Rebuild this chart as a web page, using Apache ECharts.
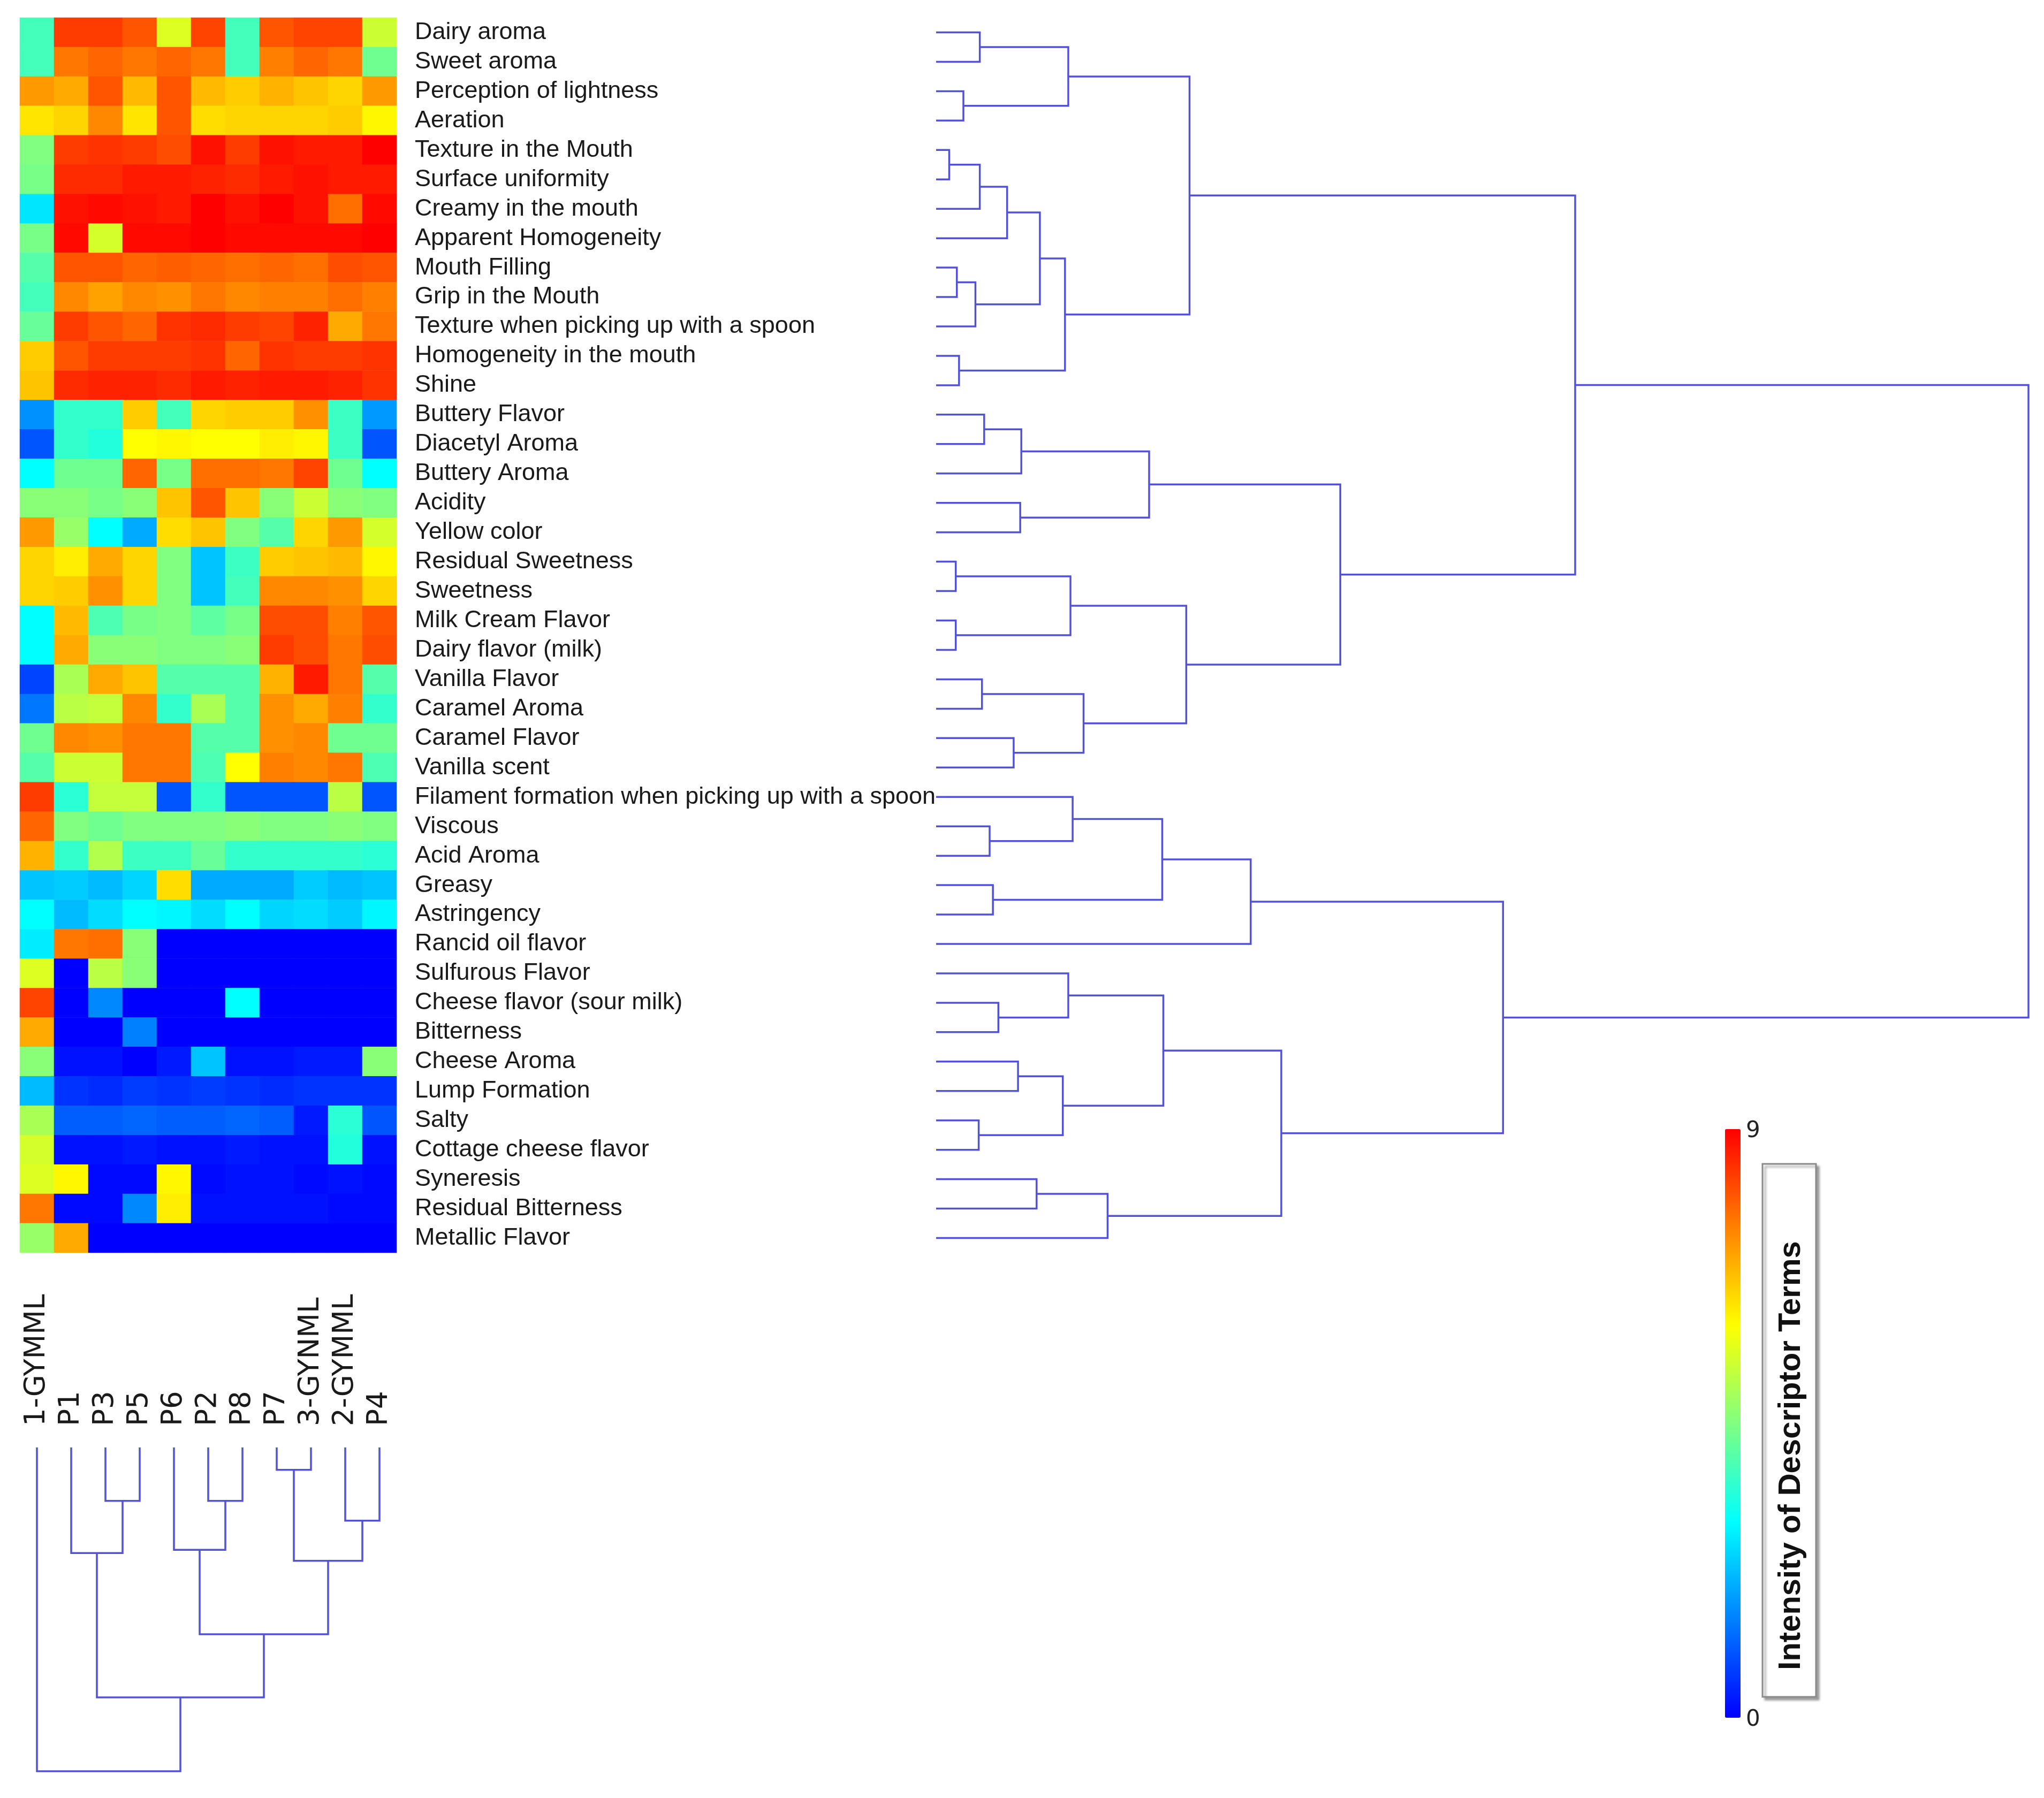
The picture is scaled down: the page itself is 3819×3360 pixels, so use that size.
<!DOCTYPE html>
<html><head><meta charset="utf-8">
<script src="https://cdn.jsdelivr.net/npm/echarts@6/dist/echarts.min.js"></script>
<style>html,body{margin:0;padding:0;background:#fff}#c{width:3819px;height:3360px}</style>
</head><body><div id="c"></div><script>
// ---------- data ----------
const samples = ['1-GYMML','P1','P3','P5','P6','P2','P8','P7','3-GYNML','2-GYMML','P4'];
const descriptors = [
  'Dairy aroma','Sweet aroma','Perception of lightness','Aeration','Texture in the Mouth',
  'Surface uniformity','Creamy in the mouth','Apparent Homogeneity','Mouth Filling','Grip in the Mouth',
  'Texture when picking up with a spoon','Homogeneity in the mouth','Shine','Buttery Flavor','Diacetyl Aroma',
  'Buttery Aroma','Acidity','Yellow color','Residual Sweetness','Sweetness','Milk Cream Flavor',
  'Dairy flavor (milk)','Vanilla Flavor','Caramel Aroma','Caramel Flavor','Vanilla scent',
  'Filament formation when picking up with a spoon','Viscous','Acid Aroma','Greasy','Astringency',
  'Rancid oil flavor','Sulfurous Flavor','Cheese flavor (sour milk)','Bitterness','Cheese Aroma',
  'Lump Formation','Salty','Cottage cheese flavor','Syneresis','Residual Bitterness','Metallic Flavor'
];
// intensity[row][column], columns in the order of `samples`
const intensity = [
  [3.8,8.3,8.3,8.0,5.6,8.2,3.8,8.0,8.2,8.2,5.4],
  [3.8,7.6,7.8,7.6,7.8,7.6,3.8,7.5,7.8,7.6,4.3],
  [7.2,7.0,8.0,6.8,8.0,6.8,6.6,6.9,6.7,6.5,7.2],
  [6.3,6.5,7.4,6.3,8.0,6.4,6.5,6.5,6.5,6.6,6.1],
  [4.5,8.3,8.4,8.3,8.1,8.8,8.3,8.8,8.7,8.7,9.0],
  [4.4,8.5,8.5,8.7,8.7,8.6,8.5,8.7,8.8,8.7,8.7],
  [2.7,8.8,8.9,8.8,8.7,9.0,8.8,9.0,8.8,7.7,8.9],
  [4.4,8.9,5.5,8.9,8.9,9.0,8.9,8.9,8.9,8.9,9.0],
  [4.0,8.0,8.0,7.8,7.9,7.8,7.7,7.8,7.7,8.1,8.0],
  [3.8,7.4,7.1,7.4,7.3,7.6,7.4,7.5,7.5,7.7,7.5],
  [4.2,8.3,8.0,7.8,8.4,8.5,8.3,8.2,8.6,7.0,7.6],
  [6.6,8.0,8.3,8.3,8.3,8.4,7.8,8.4,8.3,8.3,8.4],
  [6.7,8.5,8.6,8.6,8.5,8.7,8.6,8.7,8.7,8.6,8.4],
  [1.7,3.6,3.6,6.6,3.8,6.5,6.6,6.6,7.3,3.7,1.8],
  [1.0,3.6,3.4,6.0,6.1,6.0,6.0,6.2,6.1,3.7,1.0],
  [3.0,4.3,4.3,7.8,4.4,7.7,7.7,7.6,8.2,4.3,3.0],
  [4.6,4.6,4.4,4.6,6.7,8.0,6.7,4.6,5.4,4.6,4.5],
  [7.2,4.8,3.0,2.0,6.4,6.7,4.5,4.0,6.5,7.2,5.5],
  [6.5,6.2,7.0,6.5,4.5,2.3,3.7,6.6,6.7,6.8,6.1],
  [6.5,6.6,7.3,6.5,4.5,2.3,3.8,7.4,7.4,7.3,6.5],
  [3.0,6.8,3.9,4.4,4.5,4.1,4.4,8.1,8.1,7.5,8.0],
  [3.0,7.0,4.6,4.6,4.5,4.5,4.6,8.3,8.1,7.6,8.1],
  [0.8,5.0,7.0,6.7,4.0,4.0,4.0,6.9,8.7,7.6,4.0],
  [1.4,5.2,5.3,7.4,3.6,5.0,4.0,7.3,7.0,7.5,3.6],
  [4.3,7.4,7.3,7.6,7.6,4.0,4.0,7.3,7.4,4.3,4.3],
  [4.0,5.4,5.4,7.6,7.6,3.9,6.0,7.5,7.4,7.6,3.9],
  [8.3,3.5,5.3,5.3,1.0,3.6,1.0,1.0,1.0,5.2,1.0],
  [7.8,4.5,4.3,4.5,4.5,4.5,4.6,4.5,4.5,4.6,4.5],
  [6.9,3.6,5.1,3.7,3.7,4.2,3.6,3.6,3.6,3.6,3.5],
  [2.3,2.4,2.2,2.5,6.4,2.0,2.0,2.0,2.4,2.2,2.3],
  [3.0,2.2,2.6,3.0,2.9,2.6,3.0,2.5,2.6,2.4,2.9],
  [2.8,7.6,7.7,4.6,0.0,0.0,0.0,0.0,0.0,0.0,0.0],
  [5.6,0.0,5.2,4.6,0.0,0.0,0.0,0.0,0.0,0.0,0.0],
  [8.2,0.0,1.6,0.0,0.0,0.0,3.0,0.0,0.0,0.0,0.0],
  [7.0,0.0,0.0,1.5,0.0,0.0,0.0,0.0,0.0,0.0,0.0],
  [4.6,0.2,0.2,0.0,0.3,2.3,0.2,0.2,0.3,0.3,4.6],
  [2.2,0.6,0.5,0.7,0.6,0.7,0.6,0.5,0.6,0.6,0.6],
  [5.0,1.1,1.1,1.2,1.1,1.1,1.2,1.1,0.3,3.5,1.0],
  [5.5,0.2,0.2,0.3,0.2,0.2,0.3,0.2,0.2,3.4,0.2],
  [5.6,6.1,0.1,0.1,6.1,0.1,0.2,0.2,0.1,0.2,0.1],
  [7.6,0.1,0.1,1.6,6.2,0.2,0.2,0.2,0.2,0.1,0.1],
  [4.8,7.0,0.0,0.0,0.0,0.0,0.0,0.0,0.0,0.0,0.0]
];
// linkage: [childA, childB, height]; ids < n are leaves, id n+k is the k-th merge
const rowLinkage = [
  [0,1,4.0],[2,3,2.5],[42,43,12.1],[4,5,1.2],[45,6,4.0],[46,7,6.5],[8,9,1.9],[48,10,3.6],
  [47,49,9.5],[11,12,2.1],[50,51,11.8],[44,52,23.2],[13,14,4.4],[54,15,7.8],[16,17,7.7],
  [55,56,19.5],[18,19,1.8],[20,21,1.8],[58,59,12.3],[22,23,4.2],[24,25,7.1],[61,62,13.5],
  [60,63,22.9],[57,64,37.0],[53,65,58.5],[27,28,4.9],[26,67,12.5],[29,30,5.2],[68,69,20.7],
  [70,31,28.8],[33,34,5.7],[32,72,12.1],[35,36,7.5],[37,38,3.9],[74,75,11.6],[73,76,20.8],
  [39,40,9.2],[78,41,15.7],[77,79,31.6],[71,80,51.9],[66,81,100]
];
const colLinkage = [
  [2,3,16.5],[1,11,32.6],[5,6,16.5],[4,13,31.6],[7,8,6.9],[9,10,22.6],
  [15,16,35.0],[14,17,57.7],[12,18,77.2],[0,19,100]
];
const scaleMin = 0, scaleMax = 9;
const colorbarTitle = 'Intensity of Descriptor Terms';

// ---------- build ----------
function dendroSegments(linkage, n, heightOnX) {
  const pos = [], hgt = [];
  for (let i = 0; i < n; i++) { pos[i] = i; hgt[i] = 0; }
  const segs = [];
  linkage.forEach(([a, b, h], k) => {
    const id = n + k;
    pos[id] = (pos[a] + pos[b]) / 2; hgt[id] = h;
    const pts = [[hgt[a], pos[a]], [h, pos[a]], [h, pos[b]], [hgt[b], pos[b]]];
    segs.push({ coords: heightOnX ? pts : pts.map(p => [p[1], p[0]]) });
  });
  return segs;
}
const heatData = [];
intensity.forEach((row, i) => row.forEach((v, j) => heatData.push([j, i, v])));

const lineColor = '#5252d8';
const narrow = "'Liberation Sans', Arial, sans-serif";
const nRows = descriptors.length, nCols = samples.length;

const chart = echarts.init(document.getElementById('c'), null, { renderer: 'canvas' });
chart.setOption({
  backgroundColor: '#ffffff',
  animation: false,
  grid: [
    { left: 37, top: 33, width: 704, height: 2308, containLabel: false, outerBoundsMode: 'none' },
    { left: 1749, top: 33, width: 2041, height: 2308, containLabel: false, outerBoundsMode: 'none' },
    { left: 37, top: 2705, width: 704, height: 605, containLabel: false, outerBoundsMode: 'none' }
  ],
  xAxis: [
    { gridIndex: 0, type: 'category', data: samples, show: false },
    { gridIndex: 1, type: 'value', min: 0, max: 100, show: false },
    { gridIndex: 2, type: 'category', data: samples, position: 'top',
      axisLine: { show: false }, axisTick: { show: false }, splitLine: { show: false },
      axisLabel: { interval: 0, rotate: 90, margin: 40, fontSize: 53, color: '#1a1a1a',
        fontFamily: "'DejaVu Sans', sans-serif" } },
    { gridIndex: 2, type: 'value', min: -0.5, max: nCols - 0.5, show: false }
  ],
  yAxis: [
    { gridIndex: 0, type: 'category', data: descriptors, inverse: true, position: 'right',
      axisLine: { show: false }, axisTick: { show: false }, splitLine: { show: false },
      axisLabel: { interval: 0, margin: 34, fontSize: 45, color: '#1a1a1a', fontFamily: narrow,
        padding: [18, 0, 0, 0] } },
    { gridIndex: 1, type: 'value', min: -0.5, max: nRows - 0.5, inverse: true, show: false },
    { gridIndex: 2, type: 'value', min: 0, max: 100, inverse: true, show: false }
  ],
  visualMap: {
    type: 'continuous', min: scaleMin, max: scaleMax, seriesIndex: 0,
    orient: 'vertical', left: 3223, top: 2110, itemWidth: 29, itemHeight: 1100,
    padding: 0, calculable: false, text: null, showLabel: false,
    inRange: { color: ['#0000ff', '#0080ff', '#00ffff', '#80ff80', '#ffff00', '#ff8000', '#ff0000'] }
  },
  series: [
    { type: 'heatmap', xAxisIndex: 0, yAxisIndex: 0, data: heatData,
      itemStyle: { borderWidth: 0 }, emphasis: { disabled: true } },
    { type: 'lines', coordinateSystem: 'cartesian2d', xAxisIndex: 1, yAxisIndex: 1, polyline: true,
      clip: false, silent: true, lineStyle: { color: lineColor, width: 3.5, opacity: 1 },
      data: dendroSegments(rowLinkage, nRows, true) },
    { type: 'lines', coordinateSystem: 'cartesian2d', xAxisIndex: 3, yAxisIndex: 2, polyline: true,
      clip: false, silent: true, lineStyle: { color: lineColor, width: 3.5, opacity: 1 },
      data: dendroSegments(colLinkage, nCols, false) }
  ],
  graphic: [
    { type: 'text', x: 3262, y: 2114, style: { text: String(scaleMax), fontSize: 42, fill: '#222',
      fontFamily: "'DejaVu Sans', sans-serif", textAlign: 'left', textVerticalAlign: 'middle' } },
    { type: 'text', x: 3262, y: 3214, style: { text: String(scaleMin), fontSize: 42, fill: '#222',
      fontFamily: "'DejaVu Sans', sans-serif", textAlign: 'left', textVerticalAlign: 'middle' } },
    { type: 'rect', shape: { x: 3293, y: 2175, width: 100, height: 996 },
      style: { fill: '#fff', stroke: '#8a8a8a', lineWidth: 3, shadowBlur: 4, shadowOffsetX: 5,
        shadowOffsetY: 5, shadowColor: 'rgba(0,0,0,0.35)' } },
    { type: 'text', x: 3347, y: 2720, rotation: Math.PI / 2,
      style: { text: colorbarTitle, fontSize: 58, fontWeight: 'bold', fill: '#111',
        fontFamily: narrow, textAlign: 'center', textVerticalAlign: 'middle' } }
  ]
});
</script></body></html>
